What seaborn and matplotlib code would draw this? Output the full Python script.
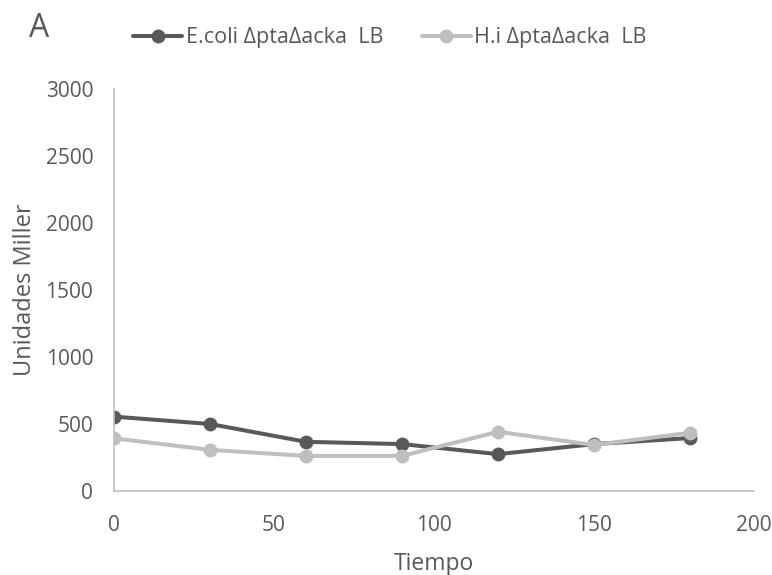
import pandas as pd
import matplotlib
matplotlib.use("Agg")
import matplotlib.pyplot as plt
import seaborn as sns

tiempo = [0, 30, 60, 90, 120, 150, 180]
ecoli = [555, 500, 367, 350, 275, 350, 395]
hi = [393, 307, 262, 262, 442, 343, 435]
series_names = ["E.coli ΔptaΔacka  LB", "H.i ΔptaΔacka  LB"]
colors = ["#595959", "#BFBFBF"]

df = pd.DataFrame({
    "Tiempo": tiempo * 2,
    "Unidades Miller": ecoli + hi,
    "serie": [series_names[0]] * len(tiempo) + [series_names[1]] * len(tiempo),
})

sns.set_style("white")
plt.rcParams["font.family"] = ["Open Sans", "DejaVu Sans"]

fig = plt.figure(figsize=(7.72, 5.75), dpi=100)
ax = fig.add_axes([0.1477, 0.1461, 0.829, 0.6991])

sns.lineplot(data=df, x="Tiempo", y="Unidades Miller", hue="serie",
             palette=colors, marker="o", markersize=10, markeredgewidth=0,
             linewidth=2.9, ax=ax, legend=False)

ax.set_xlim(0, 200)
ax.set_ylim(0, 3000)
ax.set_xticks([0, 50, 100, 150, 200])
ax.set_yticks(range(0, 3001, 500))
ax.tick_params(axis="both", length=0, labelsize=15, labelcolor="#595959")
ax.tick_params(axis="y", pad=15)
ax.tick_params(axis="x", pad=17)
for side in ["top", "right"]:
    ax.spines[side].set_visible(False)
for side in ["left", "bottom"]:
    ax.spines[side].set_color("#BFBFBF")
    ax.spines[side].set_linewidth(1.2)
ax.set_xlabel("Tiempo", fontsize=16.5, color="#595959", labelpad=12)
ax.set_ylabel("Unidades Miller", fontsize=17, color="#595959", labelpad=6)

handles = [plt.Line2D([], [], color=c, marker="o", markersize=10, linewidth=2.9,
                      markeredgewidth=0) for c in colors]
fig.legend(handles, series_names, loc="center", bbox_to_anchor=(0.505, 0.934),
           ncol=2, frameon=False, fontsize=15.5, handlelength=2.3,
           handletextpad=0.15, columnspacing=1.8, labelcolor="#595959")

fig.text(0.037, 0.951, "A", fontsize=23, color="#595959", va="center")

fig.savefig("out.png", dpi=100)
